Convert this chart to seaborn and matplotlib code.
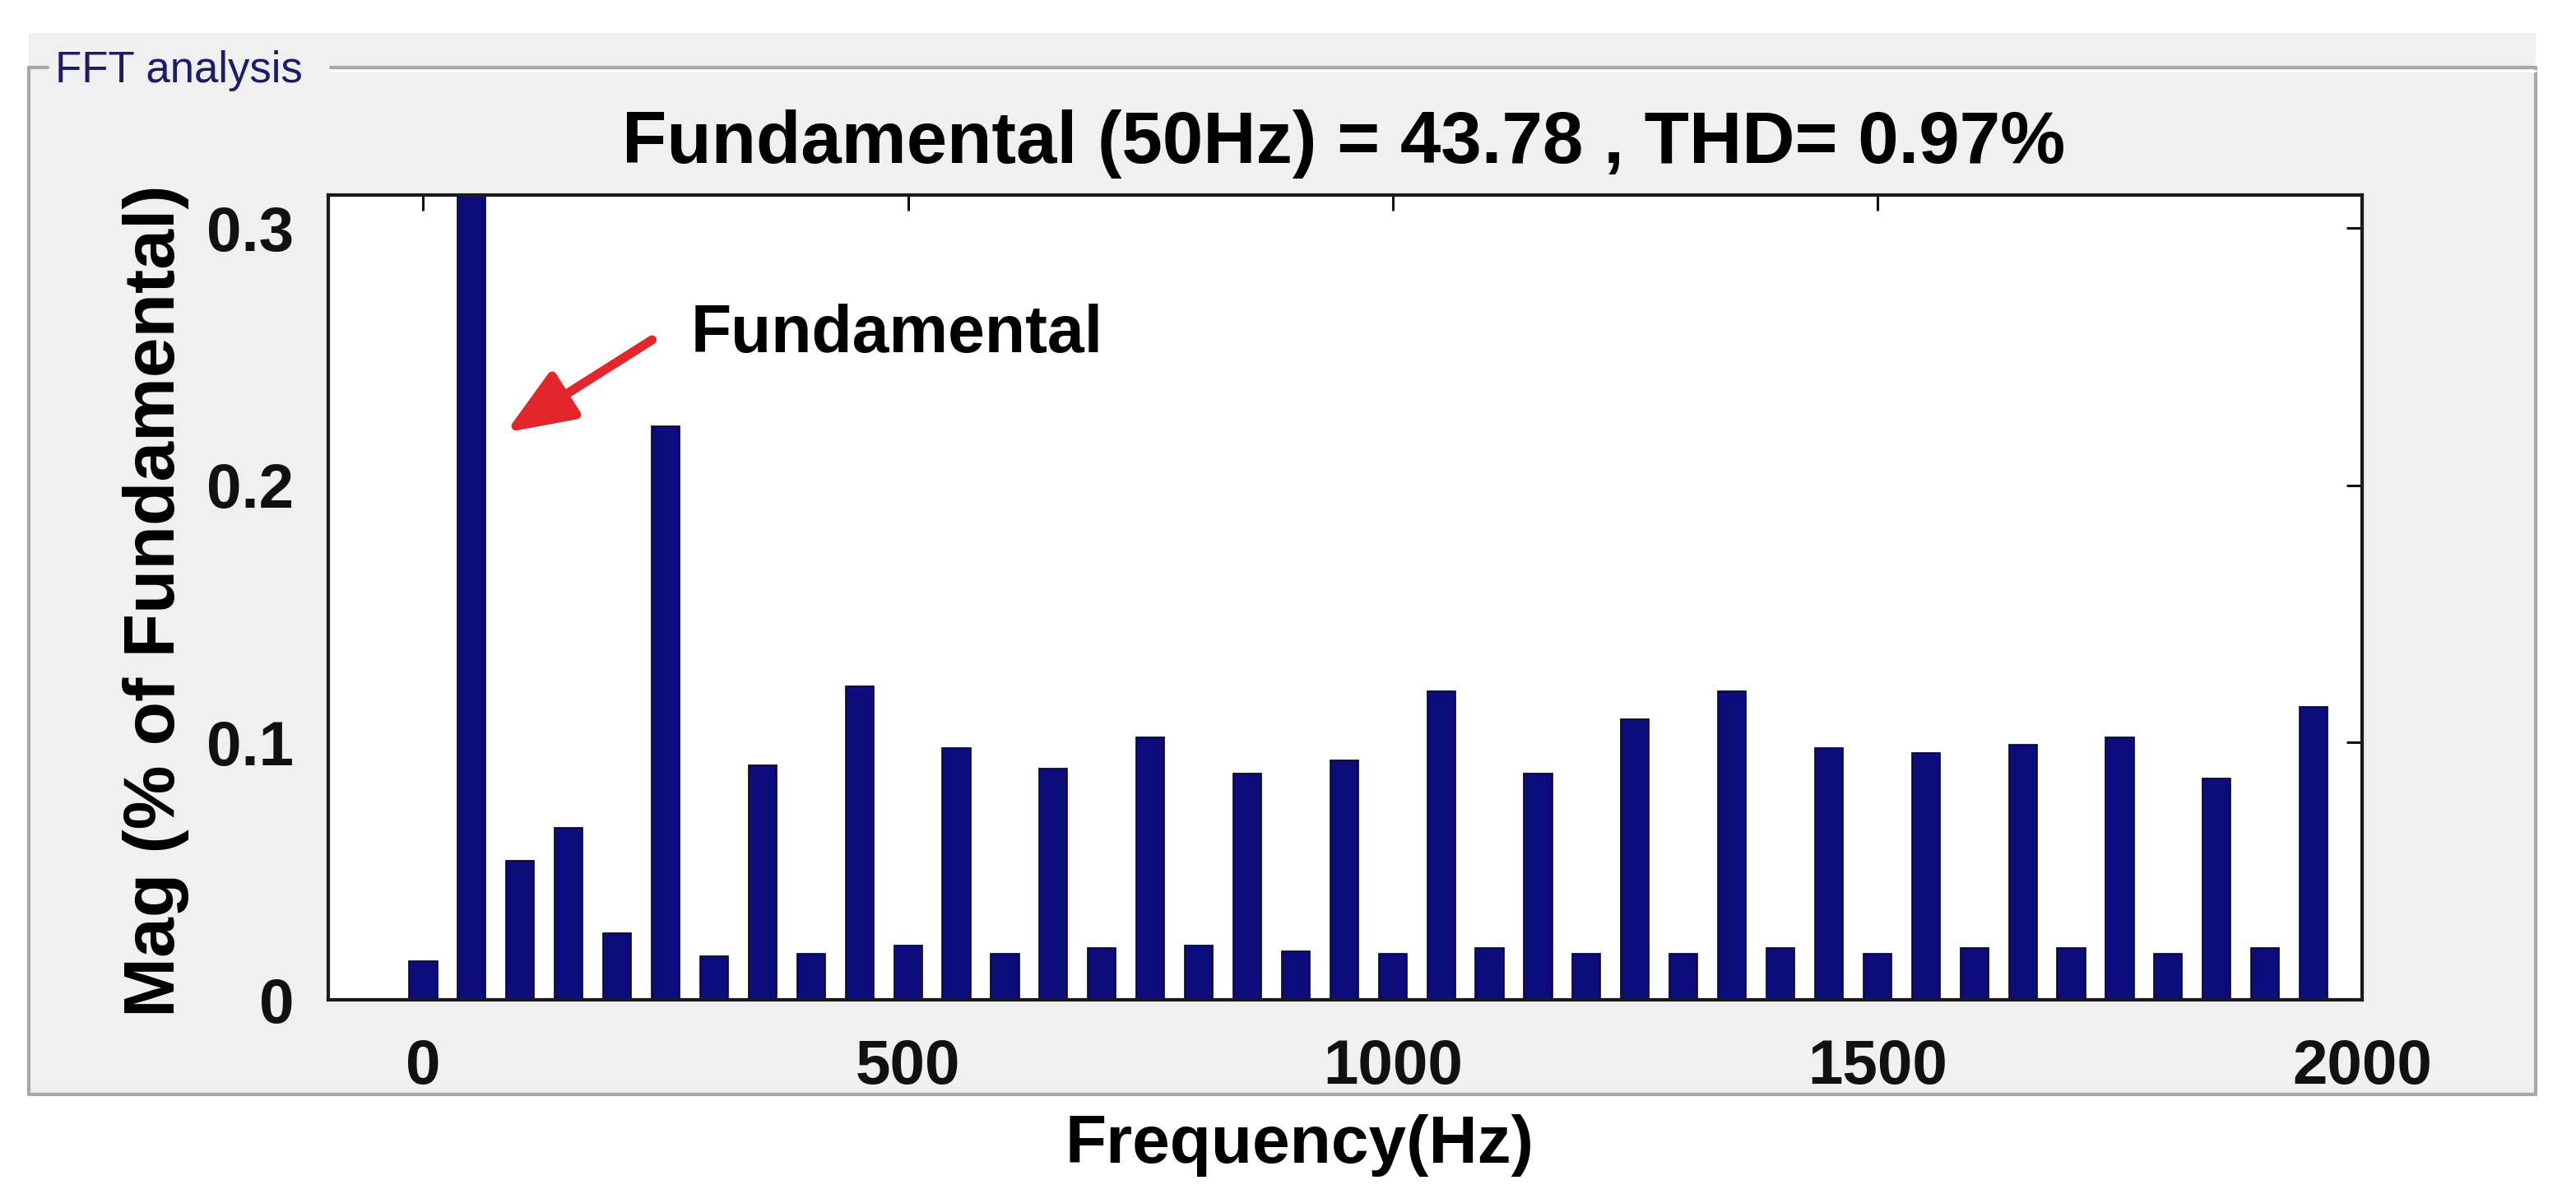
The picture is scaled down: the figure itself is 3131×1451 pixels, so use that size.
import matplotlib
matplotlib.use("Agg")
import matplotlib.pyplot as plt
from matplotlib.patches import Rectangle
from matplotlib.lines import Line2D
import seaborn as sns

# harmonic spectrum, 0..1950 Hz in 50 Hz steps (% of fundamental)
FREQS = list(range(0, 2000, 50))
MAGS = [
    0.015, 100.0, 0.054, 0.067, 0.026, 0.223, 0.017, 0.091, 0.018, 0.122,
    0.021, 0.098, 0.018, 0.090, 0.020, 0.102, 0.021, 0.088, 0.019, 0.093,
    0.018, 0.120, 0.020, 0.088, 0.018, 0.109, 0.018, 0.120, 0.020, 0.098,
    0.018, 0.096, 0.020, 0.099, 0.020, 0.102, 0.018, 0.086, 0.020, 0.114,
]
X_TICKS = [0, 500, 1000, 1500, 2000]
Y_TICKS = [0, 0.1, 0.2, 0.3]
Y_TICK_LABELS = ["0", "0.1", "0.2", "0.3"]

TITLE = "Fundamental (50Hz) = 43.78 , THD= 0.97%"
BAR_COLOR = "#0c0c7c"
PANEL = "#f0f0f0"

sns.set_style("white")
plt.rcParams["font.family"] = ["Liberation Sans", "DejaVu Sans"]
plt.rcParams["text.color"] = "black"

W, H = 3131, 1451
fig = plt.figure(figsize=(W / 100, H / 100), dpi=100)
fig.patch.set_facecolor("white")


def fx(px):
    return px / W


def fy(py):
    return 1 - py / H


# grey uipanel-like background with etched border (behind the axes)
fig.patches.append(Rectangle((fx(35), fy(1330)), fx(3082) - fx(35), fy(40) - fy(1330),
                             transform=fig.transFigure, facecolor=PANEL, edgecolor="none", zorder=-2))
border = dict(transform=fig.transFigure, color="#a8a8a8", lw=3, zorder=-1)
fig.lines += [
    Line2D([fx(35), fx(35)], [fy(82), fy(1330)], **border),
    Line2D([fx(3082), fx(3082)], [fy(82), fy(1330)], **border),
    Line2D([fx(35), fx(3082)], [fy(1330), fy(1330)], **border),
    Line2D([fx(35), fx(58)], [fy(82), fy(82)], **border),
    Line2D([fx(402), fx(3082)], [fy(82), fy(82)], **border),
    Line2D([fx(402), fx(3082)], [fy(86), fy(86)], transform=fig.transFigure, color="white", lw=2, zorder=-1),
]
fig.text(fx(67), fy(100), "FFT analysis", fontsize=38, color="#1c1c6a", va="baseline")

ax = fig.add_axes([fx(399), fy(1215), fx(2871) - fx(399), fy(237) - fy(1215)])
ax.set_facecolor("white")

sns.barplot(x=FREQS, y=MAGS, native_scale=True, width=0.58, color=BAR_COLOR,
            edgecolor="#05052a", linewidth=1.2, saturation=1, errorbar=None, ax=ax)

ax.set_xlim(-98, 2000)
ax.set_ylim(0, 0.3128)
ax.set_xticks(X_TICKS)
ax.set_xticklabels([str(t) for t in X_TICKS])
ax.set_yticks(Y_TICKS)
ax.set_yticklabels(Y_TICK_LABELS)
ax.tick_params(direction="in", top=True, right=True, length=14, width=2.2,
               labelsize=55, colors="#111111")
ax.tick_params(axis="x", pad=34)
ax.tick_params(axis="y", pad=30)
for lab in ax.get_xticklabels() + ax.get_yticklabels():
    lab.set_fontweight("bold")
for sp in ax.spines.values():
    sp.set_visible(True)
    sp.set_color("#1a1a1a")
    sp.set_linewidth(3)
ax.set_xlabel("")
ax.set_ylabel("")

fig.text(fx(1633), fy(198), TITLE, fontsize=64, fontweight="bold", ha="center", va="baseline")
fig.text(fx(190), fy(730), "Mag (% of Fundamental)", fontsize=63, fontweight="bold",
         rotation=90, ha="center", va="center")
fig.text(fx(1579), fy(1413), "Frequency(Hz)", fontsize=59, fontweight="bold",
         ha="center", va="baseline")

# arrow pointing at the fundamental bar
ax.annotate("", xy=(85, 0.2205), xytext=(236, 0.2565),
            arrowprops=dict(arrowstyle="-|>,head_length=2.0,head_width=0.8",
                            mutation_scale=25, color="#e3262c", lw=8,
                            shrinkA=0, shrinkB=0))
ax.text(276, 0.2517, "Fundamental", fontsize=58, fontweight="bold", va="baseline")

fig.savefig("out.png", dpi=100, facecolor=fig.get_facecolor())
